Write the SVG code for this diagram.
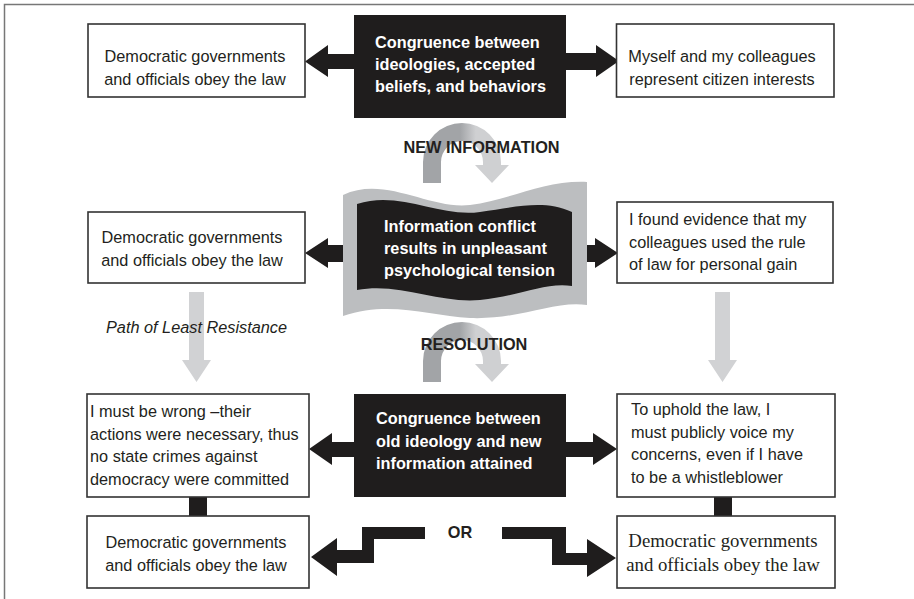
<svg xmlns="http://www.w3.org/2000/svg" width="914" height="599" viewBox="0 0 914 599">
<defs>
<linearGradient id="curveGrad" gradientUnits="userSpaceOnUse" x1="423" y1="0" x2="511" y2="0">
<stop offset="0" stop-color="#a2a4a7"/><stop offset="0.42" stop-color="#a2a4a7"/><stop offset="0.6" stop-color="#cfd0d2"/><stop offset="1" stop-color="#cfd0d2"/>
</linearGradient>
<path id="curve" d="M423,183 L423,162 A39,39 0 0 1 501,162 L501,165 L509,165 L492,183 L475,165 L483,165 L483,162 A21,21 0 0 0 441,162 L441,183 Z"/>
</defs>
<style>
.frame{fill:none;stroke:#777;stroke-width:1.5}
.box{fill:#fff;stroke:#333;stroke-width:1.6}
.dark{fill:#1f1d1d}
.t{font-family:"Liberation Sans",Arial,sans-serif;font-size:16.3px;fill:#231f20}
.tc{text-anchor:middle}
.w{font-family:"Liberation Sans",Arial,sans-serif;font-size:16.3px;font-weight:bold;fill:#fff}
.b{font-family:"Liberation Sans",Arial,sans-serif;font-size:16.3px;font-weight:bold;fill:#231f20;text-anchor:middle}
.s{font-family:"Liberation Serif","Times New Roman",serif;font-size:18.8px;fill:#231f20;text-anchor:middle}
.i{font-style:italic}
.gray{fill:#d1d2d4}
.wave{fill:#bcbec0}
</style>
<path class="frame" d="M4.5,599 V4.5 H914"/>

<g id="connectors">
<path class="dark" d="M354,54 H328 V45 L305,61.5 L328,77 V69 H354 Z"/>
<path class="dark" d="M566,53 H596 V45 L619,61 L596,77 V70 H566 Z"/>
<path class="dark" d="M343,245 H328 V238 L305,253 L328,268 V262 H343 Z"/>
<path class="dark" d="M587,245 H595 V238 L618,253 L595,268 V262 H587 Z"/>
<path class="dark" d="M354,442 H332 V433 L309,449 L332,465 V457 H354 Z"/>
<path class="dark" d="M566,442 H593 V433 L617,449 L593,465 V457 H566 Z"/>
<path class="gray" d="M189,292 H204 V360 H211 L196.5,382 L182,360 H189 Z"/>
<path class="gray" d="M715,292 H730 V360 H737 L722.5,382 L708,360 H715 Z"/>
<use href="#curve" fill="url(#curveGrad)"/>
<use href="#curve" fill="url(#curveGrad)" y="199"/>
<rect class="dark" x="189" y="497" width="18" height="19"/>
<rect class="dark" x="714" y="497" width="18" height="19"/>
<path class="dark" d="M425,527 H362 V550 H337 V538 L311,557 L337,576 V563 H374 V539 H425 Z"/>
<path class="dark" d="M502,527 H566 V553 H587 V539 L616,558 L587,577 V565 H552 V539 H502 Z"/>
<text class="b" x="481.5" y="153">NEW INFORMATION</text>
<text class="b" x="474" y="350">RESOLUTION</text>
<text class="t tc i" x="196.5" y="333">Path of Least Resistance</text>
<text class="b" x="460" y="538">OR</text>
</g>

<g id="top-left">
<rect class="box" x="88" y="24" width="217" height="73"/>
<text class="t tc" x="195" y="62">Democratic governments</text>
<text class="t tc" x="195" y="85">and officials obey the law</text>
</g>
<g id="top-center">
<rect class="dark" x="354" y="15" width="212" height="103"/>
<text class="w" x="375" y="48">Congruence between</text>
<text class="w" x="375" y="70">ideologies, accepted</text>
<text class="w" x="375" y="92">beliefs, and behaviors</text>
</g>
<g id="top-right">
<rect class="box" x="616.5" y="24" width="217.5" height="73"/>
<text class="t tc" x="722" y="62">Myself and my colleagues</text>
<text class="t tc" x="722" y="85">represent citizen interests</text>
</g>

<g id="mid-left">
<rect class="box" x="88" y="212" width="217" height="71"/>
<text class="t tc" x="192" y="243">Democratic governments</text>
<text class="t tc" x="192" y="266">and officials obey the law</text>
</g>
<g id="mid-center">
<path class="wave" d="M343,195 C385,175 430,210 470,205 C510,200 545,180 587,182 L587,305 C555,300 520,320 470,318 C430,316 390,300 343,316 Z"/>
<path class="dark" d="M357,204 C400,190 440,218 480,212 C520,206 545,200 572,212 L572,286 C545,282 520,296 480,300 C440,304 400,282 357,290 Z"/>
<text class="w" x="384" y="232">Information conflict</text>
<text class="w" x="384" y="254">results in unpleasant</text>
<text class="w" x="384" y="276">psychological tension</text>
</g>
<g id="mid-right">
<rect class="box" x="617" y="202" width="216" height="81"/>
<text class="t" x="629" y="225">I found evidence that my</text>
<text class="t" x="629" y="247.5">colleagues used the rule</text>
<text class="t" x="629" y="270">of law for personal gain</text>
</g>

<g id="low-left">
<rect class="box" x="87" y="394" width="222" height="103"/>
<text class="t" x="90" y="417">I must be wrong –their</text>
<text class="t" x="90" y="439.7">actions were necessary, thus</text>
<text class="t" x="90" y="462.4">no state crimes against</text>
<text class="t" x="90" y="485">democracy were committed</text>
</g>
<g id="low-center">
<rect class="dark" x="354" y="394" width="212" height="103"/>
<text class="w" x="376" y="424">Congruence between</text>
<text class="w" x="376" y="446.5">old ideology and new</text>
<text class="w" x="376" y="469">information attained</text>
</g>
<g id="low-right">
<rect class="box" x="617" y="394" width="218" height="103"/>
<text class="t" x="631" y="415">To uphold the law, I</text>
<text class="t" x="631" y="437.5">must publicly voice my</text>
<text class="t" x="631" y="460">concerns, even if I have</text>
<text class="t" x="631" y="483">to be a whistleblower</text>
</g>

<g id="bottom-left">
<rect class="box" x="87" y="516" width="222" height="72"/>
<text class="t tc" x="196" y="548">Democratic governments</text>
<text class="t tc" x="196" y="571">and officials obey the law</text>
</g>
<g id="bottom-right">
<rect class="box" x="617" y="516" width="218" height="72"/>
<text class="s" x="723" y="547">Democratic governments</text>
<text class="s" x="723" y="571">and officials obey the law</text>
</g>
</svg>
